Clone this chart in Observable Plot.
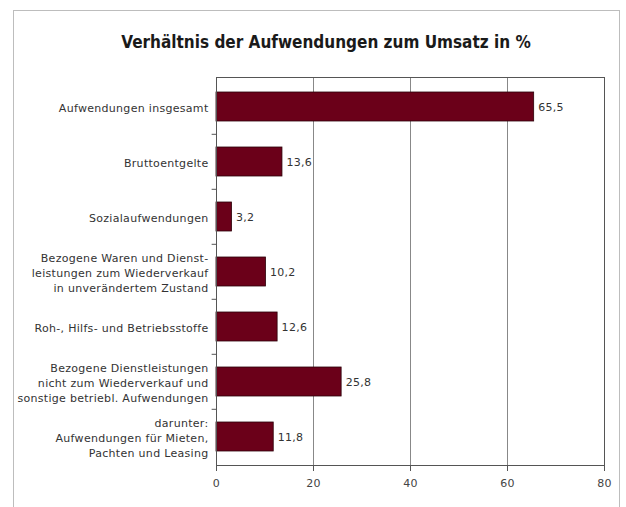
<!DOCTYPE html>
<html>
<head>
<meta charset="utf-8">
<script src="https://cdn.jsdelivr.net/npm/d3@7"></script>
<script src="https://cdn.jsdelivr.net/npm/@observablehq/plot@0.6"></script>
<style>
  html, body { margin: 0; padding: 0; background: #fff; }
  #frame { position: absolute; left: 13px; top: 10px; width: 607px; height: 520px; border: 1px solid #bdbdbd; border-bottom: none; box-sizing: border-box; }
  #title { position: absolute; left: 0; top: 32px; width: 652px; text-align: center; font-family: "DejaVu Sans Condensed", sans-serif; font-weight: bold; font-size: 17px; line-height: 20px; color: #1a1a1a; }
  #chart { position: absolute; left: 0; top: 60px; }
  #chart svg text { letter-spacing: 0.3px; }
</style>
</head>
<body>
<div id="frame"></div>
<div id="title">Verhältnis der Aufwendungen zum Umsatz in %</div>
<div id="chart"></div>
<script>
const categories = [
  "Aufwendungen insgesamt",
  "Bruttoentgelte",
  "Sozialaufwendungen",
  "Bezogene Waren und Dienst-\nleistungen zum Wiederverkauf\nin unverändertem Zustand",
  "Roh-, Hilfs- und Betriebsstoffe",
  "Bezogene Dienstleistungen\nnicht zum Wiederverkauf und\nsonstige betriebl. Aufwendungen",
  "darunter:\nAufwendungen für Mieten,\nPachten und Leasing"
];
const values = [65.5, 13.6, 3.2, 10.2, 12.6, 25.8, 11.8];
const xTicks = [0, 20, 40, 60, 80];

const data = categories.map((c, i) => ({category: c, value: values[i]}));
const fmt = v => v.toFixed(1).replace(".", ",");

const plot = Plot.plot({
  width: 626,
  height: 440,
  marginTop: 17,
  marginBottom: 35,
  marginLeft: 216,
  marginRight: 22,
  style: {fontFamily: "'DejaVu Sans', sans-serif", fontSize: "11px", color: "#333", background: "transparent"},
  x: {domain: [0, 80], ticks: xTicks, label: null},
  y: {domain: categories, label: null, paddingInner: 0.48, paddingOuter: 0.24, axis: null},
  marks: [
    Plot.gridX(xTicks.slice(1, -1), {stroke: "#888", strokeOpacity: 1, strokeWidth: 1}),
    Plot.barX(data, {x: "value", y: "category", fill: "#6b0019", stroke: "#2b0008", strokeWidth: 0.8}),
    Plot.text(data, {x: "value", y: "category", text: d => fmt(d.value), textAnchor: "start", dx: 4, fill: "#333", fontSize: 11}),
    Plot.text(data, {x: 0, y: "category", text: "category", textAnchor: "end", dx: -8, fill: "#333", fontSize: 11, lineHeight: 1.36}),
    Plot.frame({stroke: "#555", strokeWidth: 1}),
    Plot.axisX({ticks: xTicks, tickSize: 6, tickPadding: 8, stroke: "#555", fill: "#444", fontSize: 11, label: null}),
    Plot.ruleY(categories.slice(1), {y: d => d, x1: -0.9, x2: 0, dy: -27.7, stroke: "#555"})
  ]
});
document.getElementById("chart").append(plot);
</script>
</body>
</html>
